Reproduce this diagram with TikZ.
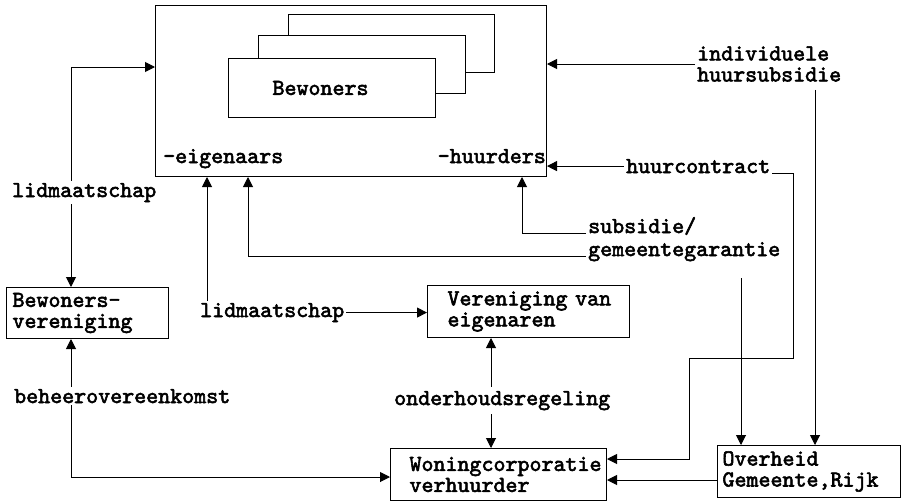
\documentclass[tikz,border=0pt]{standalone}
\usepackage{fontspec}
\newfontfamily\cour{lmmono10-regular.otf}[FakeBold=2.5]
\usetikzlibrary{arrows.meta,calc}
\begin{document}
\begin{tikzpicture}[x=1pt,y=-1pt,
  every node/.style={font=\cour\fontsize{22.86}{21}\selectfont},
  box/.style={draw,line width=1pt,fill=white,inner ysep=0pt,anchor=north west,align=left},
  lab/.style={fill=white,inner sep=2pt,anchor=base west},
  ln/.style={line width=1pt},
  arr/.style={line width=1pt,-{Triangle[length=10pt,width=10pt]}},
  dbl/.style={line width=1pt,{Triangle[length=10pt,width=10pt]}-{Triangle[length=10pt,width=10pt]}}]
\fill[white] (0,0) rectangle (908,501);
\useasboundingbox (0,0) rectangle (908,501);
% helper coordinates
\coordinate (c71) at (71,67);
\coordinate (cb) at (71,477);
\coordinate (c491) at (491,0);
\coordinate (c207) at (207,0);
\coordinate (c248) at (248,0);
\coordinate (c522) at (522,0);
\coordinate (c741) at (741,0);
\coordinate (c815) at (815,0);
\coordinate (c480) at (0,480);
\coordinate (k1) at (793,358);
\coordinate (k2) at (689,459);
% main box with stacked boxes
\node[box,minimum width=391pt,minimum height=171pt,inner xsep=0pt] (main) at (155,5) {};
\node[box,minimum width=206pt,minimum height=58pt,inner xsep=0pt] (back) at (288,14) {};
\node[box,minimum width=207pt,minimum height=58pt,inner xsep=0pt] (mid) at (258,35) {};
\node[box,minimum width=207pt,minimum height=59pt,inner xsep=44pt,text width=119pt] (front) at (228,58) {Bewoners};
\node[anchor=base west,inner sep=0pt] (eig) at (163,163) {-eigenaars};
\node[anchor=base east,inner sep=0pt] (huu) at (546,163) {-huurders};
% other boxes
\node[box,minimum width=162pt,minimum height=51pt,inner xsep=6pt,text width=150pt] (bv) at (6,287) {Bewoners-\\vereniging};
\node[box,minimum width=202pt,minimum height=52pt,inner xsep=20pt,text width=162pt] (ve) at (427,285) {Vereniging~van\\eigenaren};
\node[box,minimum width=216pt,minimum height=52pt,inner xsep=19pt,text width=178pt] (wc) at (390,448) {Woningcorporatie\\verhuurder};
\node[box,minimum width=183pt,minimum height=52pt,inner xsep=5pt,text width=173pt] (ov) at (717,445) {Overheid\\Gemeente,Rijk};
% labels that connectors start from
\node[lab] (lidM) at (198,317) {lidmaatschap};
\node[lab] (hc) at (624,173) {huurcontract};
\node[fill=white,inner sep=2pt,anchor=west,align=left] (ind) at (695,64) {individuele\\huursubsidie};
\node[lab] (sub1) at (586,233) {subsidie/};
\node[lab] (sub2) at (586,256) {gemeentegarantie};
% connectors
\draw[dbl] (bv.north -| c71) |- (main.west |- c71);
\draw[dbl] (bv.south -| cb) |- (wc.west |- cb);
\draw[dbl] (ve.south -| c491) -- (wc.north -| c491);
\draw[arr] (lidM.north -| c207) -- (main.south -| c207);
\draw[arr] (lidM.east) -- (lidM.east -| ve.west);
\draw[arr] (sub2.base west) -| (main.south -| c248);
\draw[arr] (sub1.base west) -| (main.south -| c522);
\draw[arr] ($(sub2.south -| c741)+(0,15)$) -- (ov.north -| c741);
\draw[arr] (hc.west) -- (hc.west -| main.east);
\draw[arr] (hc.base east) -| (k1) -| (k2) -- (wc.east |- k2);
\draw[arr] (ind.west) -- (ind.west -| main.east);
\draw[arr] ($(ind.south -| c815)+(0,6)$) -- (ov.north -| c815);
\draw[arr] (ov.west |- c480) -- (wc.east |- c480);
% labels lying over connectors
\node[lab] (lidL) at (10,197) {lidmaatschap};
\node[lab] (beh) at (12,403) {beheerovereenkomst};
\node[lab,inner ysep=4pt] (ond) at (392,405) {onderhoudsregeling};
\end{tikzpicture}
\end{document}
